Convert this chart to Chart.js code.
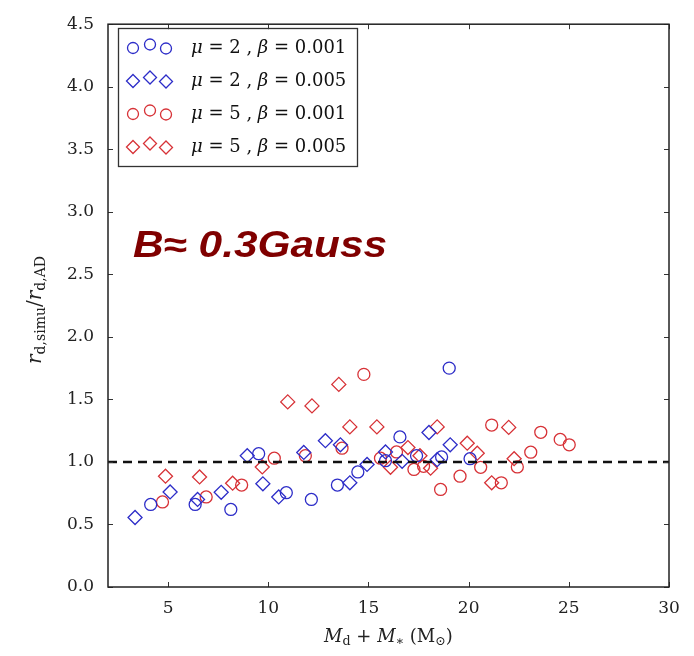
<!DOCTYPE html>
<html>
<head>
<meta charset="utf-8">
<script src="https://cdn.jsdelivr.net/npm/chart.js@4.4.1/dist/chart.umd.min.js"></script>
<style>
  body { margin: 0; background: #fff; }
  #wrap { width: 694px; height: 656px; }
</style>
</head>
<body>
<div id="wrap"><canvas id="myCanvas" width="694" height="656"></canvas></div>
<script>
'use strict';

// mu=2, beta=0.001 (blue circles)
const blueCircleX = [4.13, 6.35, 8.13, 9.52, 10.9, 12.15, 13.45, 14.47, 15.85, 16.57, 17.4, 18.65, 19.03, 20.07];
const blueCircleY = [0.66, 0.66, 0.62, 1.066, 0.754, 0.70, 0.815, 0.92, 1.01, 1.20, 1.05, 1.04, 1.75, 1.026];
// mu=2, beta=0.005 (blue diamonds)
const blueDiamondX = [3.35, 5.1, 6.47, 7.65, 8.95, 9.73, 10.52, 11.77, 12.85, 13.6, 14.07, 14.93, 15.85, 16.68, 18.02, 18.43, 19.08];
const blueDiamondY = [0.556, 0.76, 0.70, 0.757, 1.05, 0.825, 0.72, 1.076, 1.17, 1.137, 0.833, 0.98, 1.08, 1.005, 1.235, 1.018, 1.137];
// mu=5, beta=0.001 (red circles)
const redCircleX = [4.72, 6.9, 8.67, 10.3, 11.85, 13.68, 14.77, 15.6, 16.4, 17.27, 17.75, 18.6, 19.57, 20.6, 21.15, 21.63, 22.43, 23.1, 23.6, 24.57, 25.02];
const redCircleY = [0.68, 0.72, 0.815, 1.03, 1.05, 1.11, 1.70, 1.03, 1.08, 0.94, 0.965, 0.78, 0.886, 0.957, 1.295, 0.833, 0.96, 1.078, 1.237, 1.18, 1.137];
// mu=5, beta=0.005 (red diamonds)
const redDiamondX = [4.87, 6.57, 8.22, 9.7, 10.97, 12.18, 13.52, 14.07, 15.42, 16.1, 16.97, 17.57, 18.1, 18.43, 19.93, 20.43, 21.15, 22.0, 22.27];
const redDiamondY = [0.886, 0.88, 0.83, 0.96, 1.48, 1.448, 1.62, 1.28, 1.28, 0.957, 1.115, 1.05, 0.95, 1.28, 1.15, 1.07, 0.833, 1.276, 1.026];

const refLineX = [2, 30];
const refLineY = [1.0, 1.0];

const xTicks = [5, 10, 15, 20, 25, 30];
const yTicks = [0, 0.5, 1.0, 1.5, 2.0, 2.5, 3.0, 3.5, 4.0, 4.5];

const legendMu = ['2', '2', '5', '5'];
const legendBeta = ['0.001', '0.005', '0.001', '0.005'];
const legendShape = ['circle', 'diamond', 'circle', 'diamond'];

const BLUE = 'rgb(45,45,200)';
const RED = 'rgb(215,50,55)';
const SERIF = '"DejaVu Serif", serif';

function toPoints(xs, ys) {
  let pts = [];
  for (let i = 0; i < xs.length; i++) {
    pts.push({x: xs[i], y: ys[i]});
  }
  return pts;
}

function markerSet(xs, ys, color, shape) {
  return {
    type: 'scatter',
    data: toPoints(xs, ys),
    pointStyle: shape === 'circle' ? 'circle' : 'rectRot',
    pointRadius: shape === 'circle' ? 6 : 7,
    pointBorderWidth: 1.3,
    borderColor: color,
    backgroundColor: 'rgba(0,0,0,0)',
    pointBackgroundColor: 'rgba(0,0,0,0)'
  };
}

// draw pieces of text one after the other (for italics / subscripts)
function drawRich(ctx, parts, x, y, size) {
  let cx = x;
  for (let p of parts) {
    let fs = p.sub ? size * 0.7 : size;
    ctx.font = (p.italic ? 'italic ' : '') + fs + 'px ' + SERIF;
    ctx.fillText(p.t, cx, p.sub ? y + size * 0.25 : y);
    cx += ctx.measureText(p.t).width;
  }
  return cx - x;
}

function richWidth(ctx, parts, size) {
  let w = 0;
  for (let p of parts) {
    let fs = p.sub ? size * 0.7 : size;
    ctx.font = (p.italic ? 'italic ' : '') + fs + 'px ' + SERIF;
    w += ctx.measureText(p.t).width;
  }
  return w;
}

function drawMarker(ctx, shape, x, y, color) {
  ctx.strokeStyle = color;
  ctx.lineWidth = 1.3;
  ctx.beginPath();
  if (shape === 'circle') {
    ctx.arc(x, y, 5.5, 0, Math.PI * 2);
  } else {
    ctx.moveTo(x, y - 6.5);
    ctx.lineTo(x + 6.5, y);
    ctx.lineTo(x, y + 6.5);
    ctx.lineTo(x - 6.5, y);
    ctx.closePath();
  }
  ctx.stroke();
}

const framePlugin = {
  id: 'frame',
  afterDraw(chart) {
    const ctx = chart.ctx;
    const a = chart.chartArea;
    const xs = chart.scales.x;
    const ys = chart.scales.y;
    ctx.save();
    // inward ticks on all sides
    ctx.strokeStyle = '#333';
    ctx.lineWidth = 1;
    ctx.beginPath();
    for (let v of xTicks) {
      let px = Math.round(xs.getPixelForValue(v)) + 0.5;
      ctx.moveTo(px, a.bottom); ctx.lineTo(px, a.bottom - 5);
      ctx.moveTo(px, a.top); ctx.lineTo(px, a.top + 5);
    }
    for (let v of yTicks) {
      let py = Math.round(ys.getPixelForValue(v)) + 0.5;
      ctx.moveTo(a.left, py); ctx.lineTo(a.left + 5, py);
      ctx.moveTo(a.right, py); ctx.lineTo(a.right - 5, py);
    }
    ctx.stroke();
    // frame
    ctx.strokeStyle = '#222';
    ctx.lineWidth = 1.5;
    ctx.strokeRect(a.left, a.top, a.right - a.left, a.bottom - a.top);

    // legend
    ctx.lineWidth = 1.3;
    ctx.strokeStyle = '#333';
    ctx.strokeRect(118.5, 28.5, 239, 138);
    ctx.fillStyle = '#111';
    ctx.textBaseline = 'middle';
    ctx.textAlign = 'left';
    for (let i = 0; i < legendMu.length; i++) {
      let ry = 47 + i * 33;
      let col = i < 2 ? BLUE : RED;
      drawMarker(ctx, legendShape[i], 133, ry + 1, col);
      drawMarker(ctx, legendShape[i], 150, ry - 2.5, col);
      drawMarker(ctx, legendShape[i], 166, ry + 1.5, col);
      ctx.fillStyle = '#111';
      drawRich(ctx, [
        {t: '\u03bc', italic: true}, {t: ' = ' + legendMu[i] + ' , '},
        {t: '\u03b2', italic: true}, {t: ' = ' + legendBeta[i]}
      ], 191, ry + 1, 18);
    }

    // big annotation, a bit wider than the plain font
    ctx.save();
    ctx.fillStyle = '#800000';
    ctx.font = 'italic bold 36px "Liberation Sans", Arial, sans-serif';
    ctx.textBaseline = 'alphabetic';
    let tw = ctx.measureText('B\u2248 0.3Gauss').width;
    ctx.translate(133, 257);
    ctx.scale(254 / tw, 1);
    ctx.fillText('B\u2248 0.3Gauss', 0, 0);
    ctx.restore();

    // x axis title
    ctx.fillStyle = '#222';
    ctx.textBaseline = 'middle';
    let xParts = [
      {t: 'M', italic: true}, {t: 'd', sub: true}, {t: ' + '},
      {t: 'M', italic: true}, {t: '\u2217', sub: true}, {t: ' (M'},
      {t: '\u2299', sub: true}, {t: ')'}
    ];
    let w = richWidth(ctx, xParts, 18);
    drawRich(ctx, xParts, (a.left + a.right) / 2 - w / 2, 637, 18);

    // y axis title
    let yParts = [
      {t: 'r', italic: true}, {t: 'd,simu', sub: true}, {t: '/'},
      {t: 'r', italic: true}, {t: 'd,AD', sub: true}
    ];
    ctx.translate(36, 310);
    ctx.rotate(-Math.PI / 2);
    let yw = richWidth(ctx, yParts, 20);
    drawRich(ctx, yParts, -yw / 2, 0, 20);
    ctx.restore();
  }
};

const data = {
  datasets: [
    {
      type: 'line',
      data: toPoints(refLineX, refLineY),
      borderColor: '#111',
      borderWidth: 2.5,
      borderDash: [9, 6],
      pointRadius: 0,
      fill: false
    },
    markerSet(blueCircleX, blueCircleY, BLUE, 'circle'),
    markerSet(blueDiamondX, blueDiamondY, BLUE, 'diamond'),
    markerSet(redCircleX, redCircleY, RED, 'circle'),
    markerSet(redDiamondX, redDiamondY, RED, 'diamond')
  ]
};

const config = {
  type: 'scatter',
  data: data,
  options: {
    responsive: false,
    animation: false,
    layout: { padding: { top: 17, right: 25, left: 0, bottom: 0 } },
    plugins: { legend: { display: false }, tooltip: { enabled: false } },
    scales: {
      x: {
        type: 'linear',
        min: 2,
        max: 30,
        grid: { display: false, drawTicks: false },
        border: { display: false },
        afterBuildTicks: function (scale) {
          scale.ticks = xTicks.map(v => ({ value: v }));
        },
        afterFit: function (scale) { scale.height = 69; },
        ticks: {
          padding: 11,
          color: '#222',
          font: { family: SERIF, size: 17 },
          callback: v => String(v)
        }
      },
      y: {
        type: 'linear',
        min: 0,
        max: 4.5,
        grid: { display: false, drawTicks: false },
        border: { display: false },
        afterBuildTicks: function (scale) {
          scale.ticks = yTicks.map(v => ({ value: v }));
        },
        afterFit: function (scale) { scale.width = 108; },
        ticks: {
          padding: 14,
          color: '#222',
          font: { family: SERIF, size: 17 },
          callback: v => Number(v).toFixed(1)
        }
      }
    }
  },
  plugins: [framePlugin]
};

const chart = document.getElementById('myCanvas');
const myChart = new Chart(chart, config);
</script>
</body>
</html>
